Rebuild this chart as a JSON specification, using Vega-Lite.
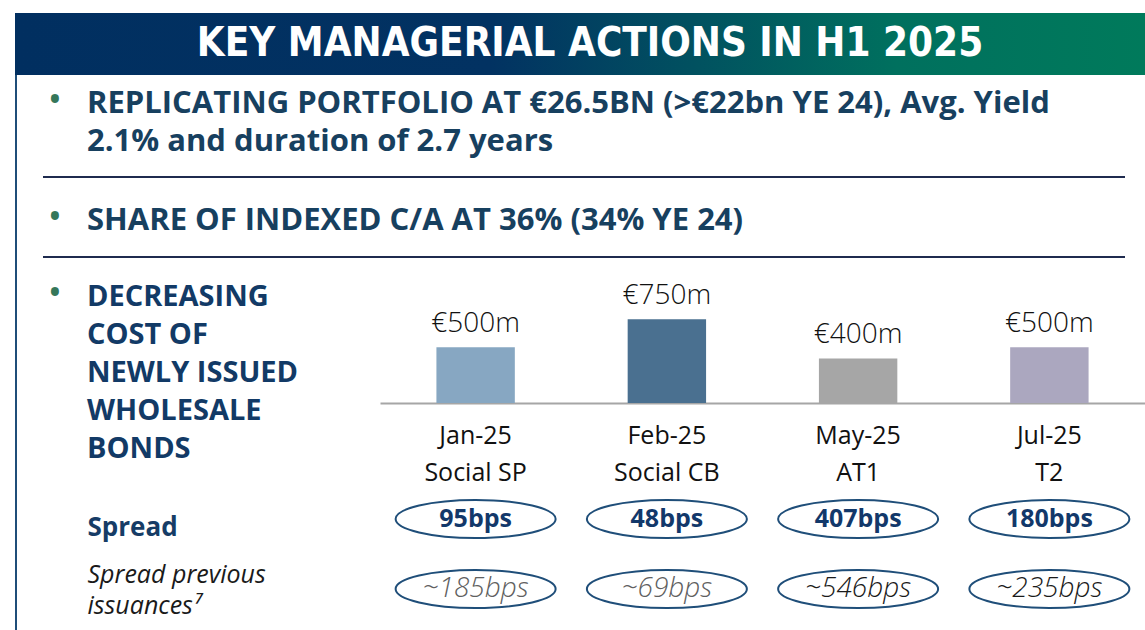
{
  "$schema": "https://vega.github.io/schema/vega-lite/v6.json",
  "padding": {"left": 15, "top": 13, "right": 0, "bottom": 0},
  "bounds": "flush",
  "spacing": 0,
  "config": {
    "view": {"stroke": null},
    "font": "Open Sans",
    "locale": {"number": {"decimal": ".", "thousands": ",", "grouping": [3], "currency": ["€", "m"]}}
  },
  "datasets": {
    "header": [{"title": "KEY MANAGERIAL ACTIONS IN H1 2025"}],
    "bullet1": [
      {"line": 1, "text": "REPLICATING PORTFOLIO AT €26.5BN  (>€22bn YE 24), Avg. Yield"},
      {"line": 2, "text": "2.1% and duration of 2.7 years"}
    ],
    "bullet2": [{"line": 1, "text": "SHARE OF INDEXED C/A AT 36% (34% YE 24)"}],
    "bullet3": [
      {"line": 1, "text": "DECREASING"},
      {"line": 2, "text": "COST OF"},
      {"line": 3, "text": "NEWLY ISSUED"},
      {"line": 4, "text": "WHOLESALE"},
      {"line": 5, "text": "BONDS"}
    ],
    "bonds": [
      {"issue": "Jan-25|Social SP", "date": "Jan-25", "type": "Social SP", "amount": 500, "spread": "95bps", "prev": "~185bps"},
      {"issue": "Feb-25|Social CB", "date": "Feb-25", "type": "Social CB", "amount": 750, "spread": "48bps", "prev": "~69bps"},
      {"issue": "May-25|AT1", "date": "May-25", "type": "AT1", "amount": 400, "spread": "407bps", "prev": "~546bps"},
      {"issue": "Jul-25|T2", "date": "Jul-25", "type": "T2", "amount": 500, "spread": "180bps", "prev": "~235bps"}
    ]
  },
  "vconcat": [
    {
      "width": 1130,
      "height": 62,
      "data": {"name": "header"},
      "layer": [
        {
          "mark": {
            "type": "rect",
            "fill": {
              "gradient": "linear", "x1": 0, "y1": 0, "x2": 1, "y2": 0,
              "stops": [
                {"offset": 0, "color": "#012f60"},
                {"offset": 0.42, "color": "#023262"},
                {"offset": 0.78, "color": "#00705e"},
                {"offset": 1, "color": "#007a5b"}
              ]
            }
          },
          "encoding": {}
        },
        {
          "mark": {"type": "text", "font": "DejaVu Sans Condensed, Open Sans", "fontWeight": "bold", "fontSize": 40, "fill": "#ffffff", "baseline": "middle", "align": "center", "dx": 10},
          "encoding": {"text": {"field": "title"}}
        }
      ]
    },
    {
      "hconcat": [
        {
          "width": 2,
          "height": 555,
          "data": {"name": "header"},
          "mark": {"type": "rect", "fill": "#1f4e79"},
          "encoding": {}
        },
        {
          "vconcat": [
            {
              "width": 1082,
              "height": 101,
              "data": {"name": "bullet1"},
              "encoding": {
                "y": {"field": "line", "type": "ordinal", "scale": {"type": "point", "padding": 0, "domain": [1, 2], "range": [38, 76]}, "axis": null}
              },
              "layer": [
                {
                  "transform": [{"filter": "datum.line == 1"}],
                  "mark": {"type": "text", "text": "•", "fontSize": 38, "fill": "#35775a", "align": "center", "baseline": "alphabetic"},
                  "encoding": {"x": {"datum": "dot", "type": "nominal", "scale": {"type": "point", "padding": 0, "domain": ["dot", "text"], "range": [12, 44]}, "axis": null}}
                },
                {
                  "mark": {"type": "text", "font": "Open Sans", "fontWeight": "bold", "fontSize": 31, "fill": "#17405f", "align": "left", "baseline": "alphabetic"},
                  "encoding": {"x": {"datum": "text", "type": "nominal"}, "text": {"field": "text"}}
                }
              ]
            },
            {
              "width": 1082,
              "height": 2,
              "data": {"name": "header"},
              "mark": {"type": "rect", "fill": "#1f2b4f"},
              "encoding": {}
            },
            {
              "width": 1082,
              "height": 78,
              "data": {"name": "bullet2"},
              "encoding": {
                "y": {"field": "line", "type": "ordinal", "scale": {"type": "point", "padding": 0, "domain": [1], "range": [52, 52]}, "axis": null}
              },
              "layer": [
                {
                  "mark": {"type": "text", "text": "•", "fontSize": 38, "fill": "#35775a", "align": "center", "baseline": "alphabetic"},
                  "encoding": {"x": {"datum": "dot", "type": "nominal", "scale": {"type": "point", "padding": 0, "domain": ["dot", "text"], "range": [12, 44]}, "axis": null}}
                },
                {
                  "mark": {"type": "text", "font": "Open Sans", "fontWeight": "bold", "fontSize": 31, "fill": "#17405f", "align": "left", "baseline": "alphabetic"},
                  "encoding": {"x": {"datum": "text", "type": "nominal"}, "text": {"field": "text"}}
                }
              ]
            },
            {
              "width": 1082,
              "height": 2,
              "data": {"name": "header"},
              "mark": {"type": "rect", "fill": "#1f2b4f"},
              "encoding": {}
            },
            {
              "hconcat": [
                {
                  "width": 337,
                  "height": 372,
                  "data": {"name": "bullet3"},
                  "encoding": {
                    "y": {"field": "line", "type": "ordinal", "scale": {"type": "point", "padding": 0, "domain": [1, 2, 3, 4, 5], "range": [48, 200]}, "axis": null}
                  },
                  "layer": [
                    {
                      "transform": [{"filter": "datum.line == 1"}],
                      "mark": {"type": "text", "text": "•", "fontSize": 38, "fill": "#35775a", "align": "center", "baseline": "alphabetic"},
                      "encoding": {"x": {"datum": "dot", "type": "nominal", "scale": {"type": "point", "padding": 0, "domain": ["dot", "text"], "range": [12, 44]}, "axis": null}}
                    },
                    {
                      "mark": {"type": "text", "font": "Open Sans", "fontWeight": "bold", "fontSize": 29, "fill": "#123a66", "align": "left", "baseline": "alphabetic"},
                      "encoding": {"x": {"datum": "text", "type": "nominal"}, "text": {"field": "text"}}
                    }
                  ]
                },
                {
                  "vconcat": [
                    {
                      "width": 765,
                      "height": 145,
                      "data": {"name": "bonds"},
                      "encoding": {
                        "x": {
                          "field": "issue", "type": "nominal", "sort": null,
                          "scale": {"paddingInner": 0, "paddingOuter": 0},
                          "axis": {
                            "title": null, "labelExpr": "split(datum.label, '|')", "labelAngle": 0,
                            "labelFont": "Open Sans", "labelFontSize": 25, "labelColor": "#111111",
                            "labelLineHeight": 37, "labelBaseline": "alphabetic", "labelPadding": 40,
                            "ticks": false, "tickSize": 0, "domainColor": "#a6a6a6", "domainWidth": 2,
                            "labelLimit": 0, "labelOverlap": false, "grid": false
                          }
                        }
                      },
                      "layer": [
                        {
                          "mark": {"type": "bar", "width": {"band": 0.41}},
                          "encoding": {
                            "y": {"field": "amount", "type": "quantitative", "scale": {"domain": [0, 1208]}, "axis": null},
                            "color": {
                              "field": "type", "type": "nominal", "sort": null,
                              "scale": {"domain": ["Social SP", "Social CB", "AT1", "T2"], "range": ["#87a7c2", "#4a7090", "#a6a6a6", "#aba7bf"]},
                              "legend": null
                            }
                          }
                        },
                        {
                          "mark": {"type": "text", "font": "Open Sans", "fontWeight": 300, "fontSize": 28, "baseline": "alphabetic", "dy": -15, "fill": "#111111"},
                          "encoding": {
                            "y": {"field": "amount", "type": "quantitative"},
                            "text": {"field": "amount", "type": "quantitative", "format": "$d"}
                          }
                        }
                      ]
                    },
                    {
                      "width": 765,
                      "height": 227,
                      "data": {"name": "bonds"},
                      "encoding": {
                        "x": {"field": "issue", "type": "nominal", "sort": null, "scale": {"paddingInner": 0, "paddingOuter": 0}, "axis": null}
                      },
                      "layer": [
                        {
                          "mark": {"type": "point", "shape": "M-1,0A1,0.2375,0,1,1,1,0A1,0.2375,0,1,1,-1,0Z", "size": 25600, "filled": false, "stroke": "#1f4e79", "strokeWidth": 2, "opacity": 1},
                          "encoding": {
                            "y": {
                              "datum": "Spread", "type": "nominal",
                              "scale": {"type": "point", "padding": 0, "domain": ["Spread", "Spread previous issuances⁷"], "range": [116, 186]},
                              "axis": {
                                "title": null, "orient": "left", "offset": 293, "domain": false, "ticks": false, "tickSize": 0,
                                "labelPadding": 0, "labelAlign": "left", "labelBaseline": "middle",
                                "labelFont": "Open Sans", "labelLineHeight": 31, "labelLimit": 0, "labelOverlap": false,
                                "labelExpr": "datum.label == 'Spread' ? datum.label : [slice(datum.label, 0, 15), slice(datum.label, 16)]",
                                "labelFontSize": {"condition": {"test": "datum.value == 'Spread'", "value": 26}, "value": 25},
                                "labelFontWeight": {"condition": {"test": "datum.value == 'Spread'", "value": "bold"}, "value": "normal"},
                                "labelFontStyle": {"condition": {"test": "datum.value == 'Spread'", "value": "normal"}, "value": "italic"},
                                "labelColor": {"condition": {"test": "datum.value == 'Spread'", "value": "#163c66"}, "value": "#1a1a1a"},
                                "labelOffset": {"condition": {"test": "datum.value == 'Spread'", "value": 8}, "value": -15},
                                "grid": false
                              }
                            }
                          }
                        },
                        {
                          "mark": {"type": "text", "font": "Open Sans", "fontWeight": "bold", "fontSize": 25, "fill": "#12386a", "baseline": "middle", "align": "center"},
                          "encoding": {"y": {"datum": "Spread", "type": "nominal"}, "text": {"field": "spread"}}
                        },
                        {
                          "mark": {"type": "point", "shape": "M-1,0A1,0.2375,0,1,1,1,0A1,0.2375,0,1,1,-1,0Z", "size": 25600, "filled": false, "stroke": "#1f4e79", "strokeWidth": 2, "opacity": 1},
                          "encoding": {"y": {"datum": "Spread previous issuances⁷", "type": "nominal"}}
                        },
                        {
                          "mark": {"type": "text", "font": "Open Sans", "fontWeight": 300, "fontStyle": "italic", "fontSize": 28, "baseline": "middle", "align": "center"},
                          "encoding": {
                            "y": {"datum": "Spread previous issuances⁷", "type": "nominal"},
                            "text": {"field": "prev"},
                            "color": {"condition": {"test": "datum.type == 'Social SP' || datum.type == 'Social CB'", "value": "#606060"}, "value": "#1a1a1a"}
                          }
                        }
                      ]
                    }
                  ],
                  "spacing": 0,
                  "bounds": "flush"
                }
              ],
              "spacing": 0,
              "bounds": "flush"
            }
          ],
          "spacing": 0,
          "bounds": "flush"
        }
      ],
      "spacing": 26,
      "bounds": "flush"
    }
  ]
}
